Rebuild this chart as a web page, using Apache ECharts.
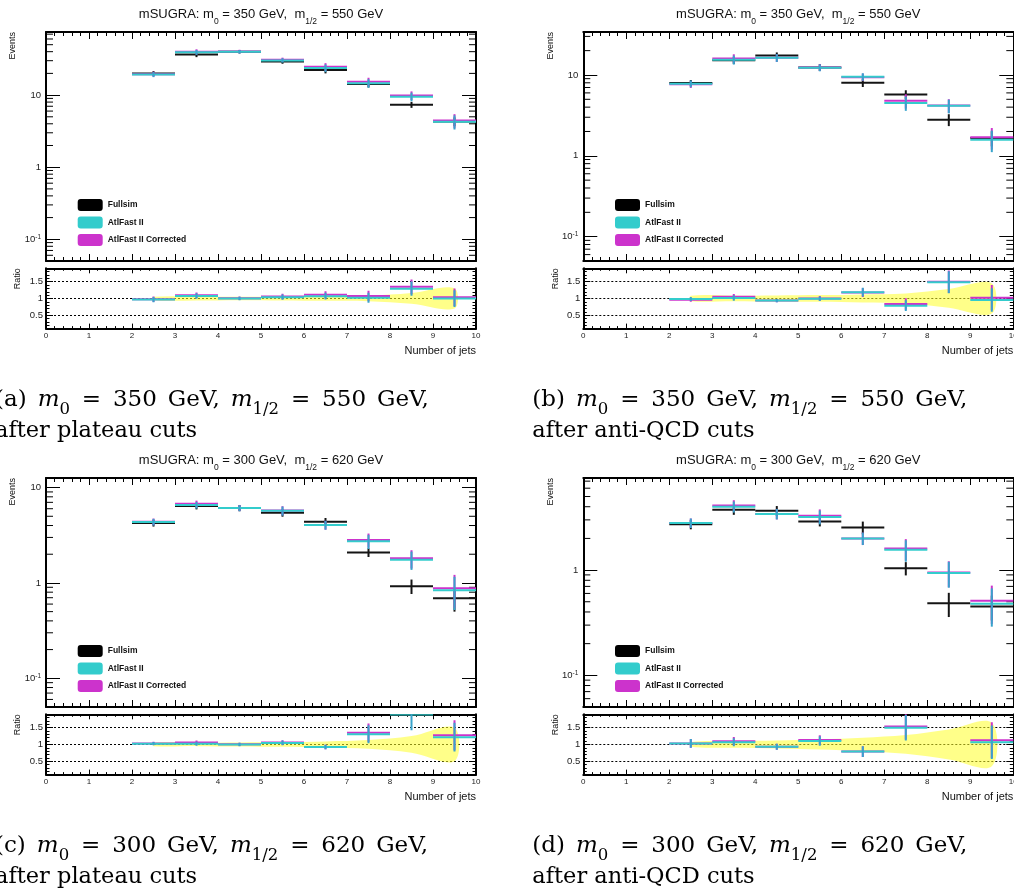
<!DOCTYPE html>
<html>
<head>
<meta charset="utf-8">
<script src="https://cdn.jsdelivr.net/npm/echarts@6/dist/echarts.min.js"></script>
<style>
  html, body { margin: 0; padding: 0; background: #fff; }
  #chart { width: 1014px; height: 892px; }
</style>
</head>
<body>
<div id="chart"></div>
<script>
// Jet-multiplicity bin edges (bins 2..9)
const binEdges = [2, 3, 4, 5, 6, 7, 8, 9, 10];

// (a) m0 = 350 GeV, m1/2 = 550 GeV, after plateau cuts
const fullsimA    = [20.0, 36.5, 40.0, 29.2, 22.2, 14.3, 7.35, 4.30];
const fullsimErrA = [1.5, 2.9, 2.2, 2.0, 2.2, 1.5, 0.7, 0.6];
const atlfastA    = [19.3, 39.2, 40.0, 30.3, 23.7, 14.6, 9.5, 4.28];
const atlfastErrA = [1.55, 3.1, 2.2, 2.1, 2.9, 2.0, 1.3, 0.95];
const correctedA  = [19.5, 40.0, 40.3, 30.9, 24.7, 15.3, 9.9, 4.45];
const ratioErrA   = [0.08, 0.08, 0.05, 0.08, 0.10, 0.15, 0.21, 0.25];
const bandA       = [0.05, 0.06, 0.05, 0.06, 0.07, 0.08, 0.16, 0.30];

// (b) m0 = 350 GeV, m1/2 = 550 GeV, after anti-QCD cuts
const fullsimB    = [7.95, 15.2, 17.4, 12.4, 8.0, 5.75, 2.8, 1.66];
const fullsimErrB = [0.7, 1.5, 1.6, 1.2, 0.9, 0.72, 0.47, 0.35];
const atlfastB    = [7.8, 15.4, 16.3, 12.3, 9.5, 4.5, 4.15, 1.58];
const atlfastErrB = [0.75, 1.95, 1.8, 1.2, 1.0, 0.9, 0.8, 0.47];
const correctedB  = [7.65, 16.0, 16.3, 12.4, 9.4, 4.8, 4.2, 1.7];
const ratioErrB   = [0.06, 0.08, 0.05, 0.07, 0.13, 0.16, 0.33, 0.35];
const bandB       = [0.08, 0.08, 0.09, 0.10, 0.12, 0.15, 0.28, 0.45];

// (c) m0 = 300 GeV, m1/2 = 620 GeV, after plateau cuts
const fullsimC    = [4.25, 6.4, 6.1, 5.45, 4.38, 2.09, 0.925, 0.69];
const fullsimErrC = [0.35, 0.5, 0.45, 0.5, 0.42, 0.22, 0.16, 0.19];
const atlfastC    = [4.35, 6.55, 6.1, 5.7, 4.05, 2.73, 1.75, 0.84];
const atlfastErrC = [0.35, 0.53, 0.45, 0.62, 0.43, 0.46, 0.38, 0.32];
const correctedC  = [4.38, 6.75, 6.12, 5.75, 4.05, 2.82, 1.81, 0.88];
const ratioErrC   = [0.05, 0.06, 0.05, 0.07, 0.07, 0.27, 0.47, 0.43];
const bandC       = [0.05, 0.05, 0.06, 0.07, 0.09, 0.13, 0.25, 0.50];

// (d) m0 = 300 GeV, m1/2 = 620 GeV, after anti-QCD cuts
const fullsimD    = [2.72, 3.75, 3.66, 2.9, 2.54, 1.04, 0.483, 0.452];
const fullsimErrD = [0.28, 0.4, 0.4, 0.3, 0.35, 0.15, 0.125, 0.12];
const atlfastD    = [2.8, 4.0, 3.42, 3.2, 2.0, 1.56, 0.94, 0.48];
const atlfastErrD = [0.29, 0.48, 0.39, 0.48, 0.27, 0.36, 0.26, 0.19];
const correctedD  = [2.8, 4.12, 3.42, 3.28, 2.0, 1.6, 0.95, 0.51];
const ratioErrD   = [0.13, 0.12, 0.09, 0.14, 0.16, 0.38, 0.50, 0.50];
const bandD       = [0.07, 0.10, 0.12, 0.15, 0.20, 0.28, 0.45, 0.65];

// Panel labels
const panelTags   = ['a', 'b', 'c', 'd'];
const m0Values    = ['350', '350', '300', '300'];
const m12Values   = ['550', '550', '620', '620'];
const cutLabels   = ['after plateau cuts', 'after anti-QCD cuts', 'after plateau cuts', 'after anti-QCD cuts'];
const eventsMax   = [75, 34, 12.6, 7.5];
const eventsMin   = 0.05;
const RATIO_MIN = 0.1, RATIO_MAX = 1.9;
const legendNames = ['Fullsim', 'AtlFast II', 'AtlFast II Corrected'];
const logDecades  = [0.01, 0.1, 1, 10];
const logMinorSteps = [2, 3, 4, 5, 6, 7, 8, 9];

const panels = [
  { full: fullsimA, fullErr: fullsimErrA, atl: atlfastA, atlErr: atlfastErrA, corr: correctedA, ratioErr: ratioErrA, band: bandA },
  { full: fullsimB, fullErr: fullsimErrB, atl: atlfastB, atlErr: atlfastErrB, corr: correctedB, ratioErr: ratioErrB, band: bandB },
  { full: fullsimC, fullErr: fullsimErrC, atl: atlfastC, atlErr: atlfastErrC, corr: correctedC, ratioErr: ratioErrC, band: bandC },
  { full: fullsimD, fullErr: fullsimErrD, atl: atlfastD, atlErr: atlfastErrD, corr: correctedD, ratioErr: ratioErrD, band: bandD }
];

// Layout (pixels)
const frames = [{ x: 46, y: 32 }, { x: 583.3, y: 32 }, { x: 46, y: 478 }, { x: 583.3, y: 478 }];
const FRAME_W = 430, MAIN_H = 229, RATIO_OFF = 236.3, RATIO_H = 60.3;

const SANS = 'Liberation Sans';
const SERIF = 'DejaVu Serif';
const INK = '#111';
const BLACK = '#141414', CYAN = '#33cccc', MAGENTA = '#cc33cc', ERR_BLUE = '#38a4cc';
const BAND = 'rgba(255,255,40,0.55)';

// one histogram bin: horizontal bar across the bin plus a vertical error bar;
// bins whose central value lies above the frame are not drawn
function histRenderer(lineColor, errColor, maxVal) {
  return function (params, api) {
    const lo = api.value(0), hi = api.value(1), v = api.value(2), e = api.value(3);
    if (maxVal !== undefined && v > maxVal) return null;
    const a = api.coord([lo, v]);
    const b = api.coord([hi, v]);
    const mid = (lo + hi) / 2;
    const top = api.coord([mid, v + e]);
    const bot = api.coord([mid, Math.max(v - e, 1e-4)]);
    return {
      type: 'group',
      children: [
        { type: 'line', shape: { x1: a[0], y1: a[1], x2: b[0], y2: b[1] }, style: { stroke: lineColor, lineWidth: 2 } },
        { type: 'line', shape: { x1: top[0], y1: top[1], x2: bot[0], y2: bot[1] }, style: { stroke: errColor, lineWidth: 2 } }
      ]
    };
  };
}

// smoothed closed band through the bin centres (drawn once for the whole series)
function bandRenderer(params, api) {
  if (params.dataIndexInside !== 0) return null;
  const upper = [], lower = [];
  for (let j = 0; j < params.dataInsideLength; j++) {
    const c = api.value(0, j);
    upper.push(api.coord([c, api.value(2, j)]));
    lower.push(api.coord([c, api.value(1, j)]));
  }
  return {
    type: 'polygon',
    shape: { points: upper.concat(lower.reverse()), smooth: 0.35 },
    style: { fill: BAND, stroke: null }
  };
}

// short minor ticks at 2..9 x 10^k on both sides of a log frame
function logMinorRenderer(params, api) {
  const decade = api.value(1);
  const children = [];
  logMinorSteps.forEach(function (m) {
    const l = api.coord([0, m * decade]);
    const r = api.coord([10, m * decade]);
    children.push({ type: 'line', shape: { x1: l[0], y1: l[1], x2: l[0] + 7, y2: l[1] }, style: { stroke: '#000', lineWidth: 1 } });
    children.push({ type: 'line', shape: { x1: r[0], y1: r[1], x2: r[0] - 7, y2: r[1] }, style: { stroke: '#000', lineWidth: 1 } });
  });
  return { type: 'group', children: children };
}

function histRows(vals, errs) {
  return vals.map(function (v, k) { return [binEdges[k], binEdges[k + 1], v, errs[k]]; });
}

function xAxisCfg(grid, pos, showLabels, majorLen, minorLen) {
  return {
    type: 'value', gridIndex: grid, position: pos, min: 0, max: 10, interval: 1,
    axisLine: { show: true, onZero: false, lineStyle: { color: '#000', width: 2 } },
    axisTick: { show: true, inside: true, length: majorLen, lineStyle: { color: '#000', width: 1 } },
    minorTick: { show: true, splitNumber: 5, length: minorLen, lineStyle: { color: '#000', width: 1 } },
    axisLabel: { show: showLabels, fontSize: 8, margin: 3, color: '#222', fontFamily: SANS },
    splitLine: { show: false }, minorSplitLine: { show: false }
  };
}

function logLabel(v) {
  const e = Math.round(Math.log10(v));
  if (e >= 0) return '{b|' + Math.pow(10, e) + '}';
  return '{b|10}{s|' + e + '}';
}

function mainYAxisCfg(grid, pos, max) {
  return {
    type: 'log', logBase: 10, gridIndex: grid, position: pos, min: eventsMin, max: max,
    axisLine: { show: true, onZero: false, lineStyle: { color: '#000', width: 2 } },
    axisTick: { show: true, inside: true, length: 14, lineStyle: { color: '#000', width: 1 } },
    minorTick: { show: false },
    axisLabel: {
      show: pos === 'left', margin: 5, showMinLabel: false, showMaxLabel: false,
      formatter: logLabel,
      rich: {
        b: { fontSize: 9.5, lineHeight: 12, color: '#222', fontFamily: SANS },
        s: { fontSize: 6.5, lineHeight: 6.5, verticalAlign: 'top', color: '#222', fontFamily: SANS }
      }
    },
    splitLine: { show: false }
  };
}

function ratioYAxisCfg(grid, pos) {
  return {
    type: 'value', gridIndex: grid, position: pos, min: RATIO_MIN, max: RATIO_MAX, splitNumber: 4,
    axisLine: { show: true, onZero: false, lineStyle: { color: '#000', width: 2 } },
    axisTick: { show: true, inside: true, length: 7, lineStyle: { color: '#000', width: 1 } },
    minorTick: { show: true, splitNumber: 5, length: 3.5, lineStyle: { color: '#000', width: 1 } },
    axisLabel: { show: pos === 'left', margin: 3, fontSize: 9.5, color: '#222', fontFamily: SANS, showMinLabel: false, showMaxLabel: false },
    splitLine: { show: pos === 'left', showMinLine: false, showMaxLine: false, lineStyle: { type: [2, 2], color: '#000', width: 1 } },
    minorSplitLine: { show: false }
  };
}

const grids = [], xAxes = [], yAxes = [], series = [], graphics = [], legends = [];

panels.forEach(function (p, i) {
  const F = frames[i];
  const gMain = grids.length;
  grids.push({ left: F.x, top: F.y, width: FRAME_W, height: MAIN_H, outerBoundsMode: 'none', containLabel: false });
  const gRatio = grids.length;
  grids.push({ left: F.x, top: F.y + RATIO_OFF, width: FRAME_W, height: RATIO_H, outerBoundsMode: 'none', containLabel: false });

  const xMain = xAxes.length;
  xAxes.push(xAxisCfg(gMain, 'bottom', false, 7, 4));
  xAxes.push(xAxisCfg(gMain, 'top', false, 7, 4));
  const xRatio = xAxes.length;
  xAxes.push(xAxisCfg(gRatio, 'bottom', true, 5, 2.5));
  xAxes.push(xAxisCfg(gRatio, 'top', false, 5, 2.5));

  const yMain = yAxes.length;
  yAxes.push(mainYAxisCfg(gMain, 'left', eventsMax[i]));
  yAxes.push(mainYAxisCfg(gMain, 'right', eventsMax[i]));
  const yRatio = yAxes.length;
  yAxes.push(ratioYAxisCfg(gRatio, 'left'));
  yAxes.push(ratioYAxisCfg(gRatio, 'right'));

  const corrErr = p.atlErr.map(function (e, k) { return e * p.corr[k] / p.atl[k]; });

  // main distributions
  series.push({
    type: 'custom', name: 'logMinorTicks', xAxisIndex: xMain, yAxisIndex: yMain, silent: true, clip: true,
    renderItem: logMinorRenderer, encode: { x: 0, y: 1 },
    data: logDecades.map(function (d) { return [0, d]; })
  });
  series.push({
    type: 'custom', name: legendNames[0], xAxisIndex: xMain, yAxisIndex: yMain, clip: true, silent: true,
    itemStyle: { color: '#000' }, renderItem: histRenderer(BLACK, BLACK),
    encode: { x: [0, 1], y: 2 }, data: histRows(p.full, p.fullErr)
  });
  series.push({
    type: 'custom', name: legendNames[2], xAxisIndex: xMain, yAxisIndex: yMain, clip: true, silent: true,
    itemStyle: { color: MAGENTA }, renderItem: histRenderer(MAGENTA, MAGENTA),
    encode: { x: [0, 1], y: 2 }, data: histRows(p.corr, corrErr)
  });
  series.push({
    type: 'custom', name: legendNames[1], xAxisIndex: xMain, yAxisIndex: yMain, clip: true, silent: true,
    itemStyle: { color: CYAN }, renderItem: histRenderer(CYAN, ERR_BLUE),
    encode: { x: [0, 1], y: 2 }, data: histRows(p.atl, p.atlErr)
  });

  // ratio panel: Fullsim uncertainty band around 1
  const centers = binEdges.slice(0, -1).map(function (lo, k) { return (lo + binEdges[k + 1]) / 2; });
  series.push({
    type: 'custom', name: 'band' + i, xAxisIndex: xRatio, yAxisIndex: yRatio, clip: true, silent: true, z: 1,
    renderItem: bandRenderer, encode: { x: 0, y: [1, 2] },
    data: centers.map(function (c, k) { return [c, 1 - p.band[k], 1 + p.band[k]]; })
  });

  const ratioAtl = p.atl.map(function (v, k) { return v / p.full[k]; });
  const ratioCorr = p.corr.map(function (v, k) { return v / p.full[k]; });
  const ratioCorrErr = p.ratioErr.map(function (e, k) { return e * p.corr[k] / p.atl[k]; });
  series.push({
    type: 'custom', name: 'ratioCorrected' + i, xAxisIndex: xRatio, yAxisIndex: yRatio, clip: true, silent: true, z: 3,
    renderItem: histRenderer(MAGENTA, MAGENTA, RATIO_MAX), encode: { x: [0, 1], y: 2 },
    data: histRows(ratioCorr, ratioCorrErr)
  });
  series.push({
    type: 'custom', name: 'ratioAtlfast' + i, xAxisIndex: xRatio, yAxisIndex: yRatio, clip: true, silent: true, z: 3,
    renderItem: histRenderer(CYAN, ERR_BLUE, RATIO_MAX), encode: { x: [0, 1], y: 2 },
    data: histRows(ratioAtl, p.ratioErr)
  });

  legends.push({
    left: F.x + 31.7, top: F.y + 167, orient: 'vertical', padding: 0,
    itemWidth: 25, itemHeight: 12, itemGap: 5.5, icon: 'roundRect', selectedMode: false,
    textStyle: { fontSize: 8.5, fontWeight: 'bold', color: INK, fontFamily: SANS },
    data: legendNames
  });

  // titles and axis titles
  graphics.push({
    type: 'text', x: F.x + FRAME_W / 2, y: F.y - 18,
    style: {
      text: 'mSUGRA: m{s|0} = ' + m0Values[i] + ' GeV,  m{s|1/2} = ' + m12Values[i] + ' GeV',
      fontFamily: SANS, fontSize: 13, lineHeight: 24, fill: INK,
      align: 'center', verticalAlign: 'middle', textAlign: 'center', textVerticalAlign: 'middle',
      rich: { s: { fontFamily: SANS, fontSize: 8.5, lineHeight: 8.5, verticalAlign: 'bottom', fill: INK } }
    }
  });
  graphics.push({
    type: 'text', x: F.x - 33, y: F.y, rotation: Math.PI / 2,
    style: { text: 'Events', fontFamily: SANS, fontSize: 9, fill: INK, align: 'right', verticalAlign: 'middle', textAlign: 'right', textVerticalAlign: 'middle' }
  });
  graphics.push({
    type: 'text', x: F.x - 28, y: F.y + RATIO_OFF, rotation: Math.PI / 2,
    style: { text: 'Ratio', fontFamily: SANS, fontSize: 9, fill: INK, align: 'right', verticalAlign: 'middle', textAlign: 'right', textVerticalAlign: 'middle' }
  });
  graphics.push({
    type: 'text', x: F.x + FRAME_W, y: F.y + 318.7,
    style: { text: 'Number of jets', fontFamily: SANS, fontSize: 11, fill: INK, align: 'right', verticalAlign: 'middle', textAlign: 'right', textVerticalAlign: 'middle' }
  });

  // caption below each panel
  graphics.push({
    type: 'text', x: F.x - 51, y: F.y + 368,
    style: {
      text: '(' + panelTags[i] + '){sp| }{i|m}{s|0}{eq|=}' + m0Values[i] + '{sp| }GeV,{sp| }{i|m}{s|1/2}{eq|=}' + m12Values[i] + '{sp| }GeV,',
      fontFamily: SERIF, fontSize: 23, lineHeight: 36, fill: '#000',
      align: 'left', verticalAlign: 'middle', textAlign: 'left', textVerticalAlign: 'middle',
      rich: {
        i: { fontFamily: SERIF, fontStyle: 'italic', fontSize: 23, lineHeight: 36, fill: '#000' },
        s: { fontFamily: SERIF, fontSize: 16.5, lineHeight: 16.5, verticalAlign: 'bottom', fill: '#000' },
        eq: { fontFamily: SERIF, fontSize: 23, lineHeight: 36, width: 43, align: 'center', fill: '#000' },
        sp: { fontFamily: SERIF, fontSize: 23, lineHeight: 36, width: 11, fill: '#000' }
      }
    }
  });
  graphics.push({
    type: 'text', x: F.x - 51, y: F.y + 399,
    style: { text: cutLabels[i], fontFamily: SERIF, fontSize: 22.5, fill: '#000', align: 'left', verticalAlign: 'middle', textAlign: 'left', textVerticalAlign: 'middle' }
  });
});

const chart = echarts.init(document.getElementById('chart'), null, { renderer: 'canvas' });
chart.setOption({
  animation: false,
  backgroundColor: '#fff',
  textStyle: { fontFamily: SANS },
  grid: grids,
  xAxis: xAxes,
  yAxis: yAxes,
  legend: legends,
  series: series,
  graphic: graphics
});
</script>
</body>
</html>
